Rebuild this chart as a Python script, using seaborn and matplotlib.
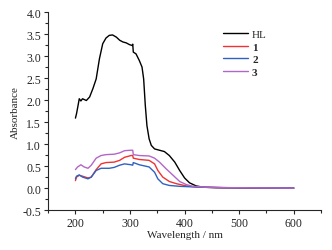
import matplotlib
matplotlib.use("Agg")
import matplotlib.pyplot as plt
from matplotlib.ticker import MultipleLocator
import seaborn as sns
import pandas as pd

hl_x = [200, 202, 205, 207, 210, 213, 220, 226, 232, 238, 244, 250, 256, 262, 268, 275, 281, 287, 293, 299, 304, 305, 306, 311, 317, 322, 325, 328, 331, 335, 339, 345, 354, 363, 372, 382, 391, 400, 409, 421, 434, 458, 500, 550, 600]
hl_y = [1.59, 1.69, 1.89, 2.03, 1.98, 2.03, 1.99, 2.07, 2.26, 2.48, 2.94, 3.28, 3.41, 3.47, 3.48, 3.43, 3.36, 3.32, 3.30, 3.26, 3.24, 3.27, 3.09, 3.05, 2.90, 2.75, 2.48, 1.88, 1.42, 1.12, 0.97, 0.89, 0.86, 0.83, 0.74, 0.59, 0.40, 0.23, 0.12, 0.05, 0.02, 0.01, 0.005, 0.002, 0.0]

c1_x = [200, 202, 207, 213, 223, 229, 238, 247, 256, 271, 281, 290, 302, 305, 306, 317, 335, 345, 351, 360, 372, 385, 403, 428, 470, 530, 600]
c1_y = [0.17, 0.25, 0.29, 0.27, 0.23, 0.25, 0.42, 0.55, 0.58, 0.59, 0.63, 0.70, 0.74, 0.74, 0.68, 0.65, 0.63, 0.55, 0.40, 0.25, 0.15, 0.10, 0.05, 0.02, 0.01, 0.005, 0.0]

c2_x = [200, 202, 207, 213, 223, 229, 238, 247, 262, 271, 281, 290, 302, 305, 306, 317, 335, 345, 351, 360, 372, 391, 428, 470, 530, 600]
c2_y = [0.21, 0.27, 0.30, 0.25, 0.21, 0.25, 0.40, 0.45, 0.45, 0.47, 0.52, 0.55, 0.53, 0.52, 0.58, 0.53, 0.48, 0.36, 0.21, 0.10, 0.06, 0.04, 0.02, 0.01, 0.005, 0.0]

c3_x = [200, 204, 210, 216, 223, 229, 238, 247, 256, 271, 281, 290, 302, 305, 306, 317, 335, 345, 354, 366, 379, 391, 403, 415, 440, 480, 540, 600]
c3_y = [0.42, 0.48, 0.53, 0.48, 0.45, 0.52, 0.68, 0.74, 0.76, 0.77, 0.80, 0.85, 0.86, 0.86, 0.76, 0.74, 0.73, 0.68, 0.59, 0.44, 0.29, 0.15, 0.08, 0.04, 0.02, 0.01, 0.005, 0.0]

series_names = ["HL", "1", "2", "3"]
colors = ["#000000", "#f03232", "#2f62c0", "#b266c8"]

frames = []
for name, xs, ys in zip(series_names, [hl_x, c1_x, c2_x, c3_x], [hl_y, c1_y, c2_y, c3_y]):
    frames.append(pd.DataFrame({"Wavelength": xs, "Absorbance": ys, "Sample": name}))
df = pd.concat(frames, ignore_index=True)

sns.set_style("ticks")
plt.rcParams['font.family'] = ['Liberation Serif', 'DejaVu Serif']

fig = plt.figure(figsize=(3.32, 2.51), dpi=100)
ax = fig.add_axes([0.145, 0.159, 0.822, 0.789])
sns.lineplot(data=df, x="Wavelength", y="Absorbance", hue="Sample",
             palette=dict(zip(series_names, colors)), linewidth=1.0,
             estimator=None, sort=False, ax=ax)

ax.set_xlim(150, 650)
ax.set_ylim(-0.5, 4.0)
ax.xaxis.set_major_locator(MultipleLocator(100))
ax.xaxis.set_minor_locator(MultipleLocator(50))
ax.yaxis.set_major_locator(MultipleLocator(0.5))
ax.yaxis.set_minor_locator(MultipleLocator(0.25))
ax.yaxis.set_major_formatter(matplotlib.ticker.FormatStrFormatter('%.1f'))
ax.tick_params(axis='both', which='major', labelsize=8.5, length=3, width=0.8, direction='out', pad=2)
ax.tick_params(axis='both', which='minor', length=2, width=0.8, direction='out')
ax.set_xlabel("Wavelength / nm", fontsize=8, labelpad=1)
ax.set_ylabel("Absorbance", fontsize=8, labelpad=2)
for s in ['top', 'right']:
    ax.spines[s].set_visible(False)
for s in ['left', 'bottom']:
    ax.spines[s].set_linewidth(0.8)

leg = ax.legend(loc='upper left', bbox_to_anchor=(0.625, 0.935), frameon=False, fontsize=8,
                handlelength=2.2, handletextpad=0.4, labelspacing=0.25, borderaxespad=0)
for t in leg.get_texts():
    if t.get_text() != "HL":
        t.set_fontweight('bold')

fig.savefig("out.png", dpi=100)
